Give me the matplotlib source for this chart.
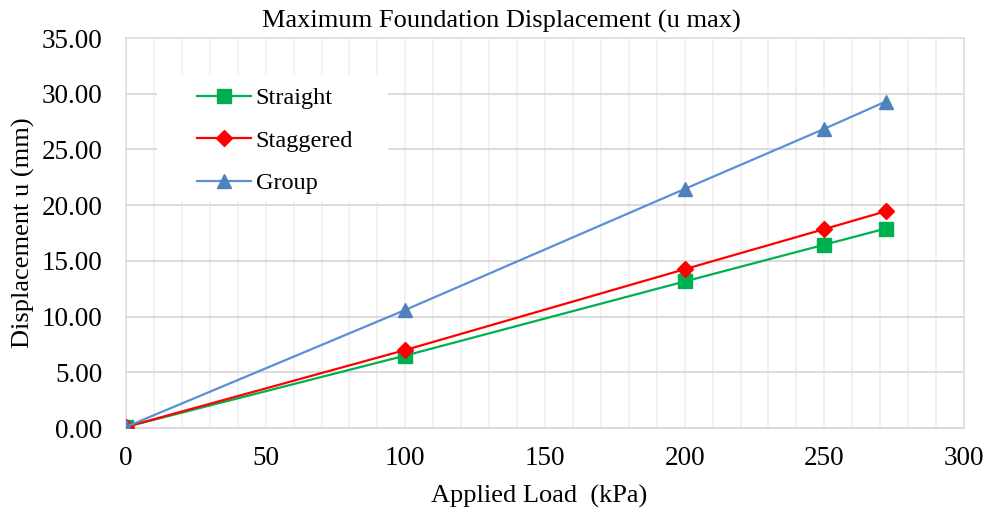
import matplotlib
matplotlib.use("Agg")
import matplotlib.pyplot as plt
from matplotlib.ticker import MultipleLocator, FormatStrFormatter
from matplotlib.patches import Rectangle

load = [0, 100, 200, 250, 272]
straight = [0.1, 6.5, 13.15, 16.45, 17.9]
staggered = [0.1, 7.0, 14.25, 17.85, 19.45]
group = [0.1, 10.6, 21.45, 26.85, 29.3]

plt.rcParams['font.family'] = ['Liberation Serif', 'DejaVu Serif']

W, H = 988, 509
fig = plt.figure(figsize=(9.88, 5.09), dpi=100)
L, R, T, B = 126, 964, 38, 428
ax = fig.add_axes([L/W, 1-B/H, (R-L)/W, (B-T)/H])

ax.plot(load, straight, color='#00b050', marker='s', markersize=10, lw=1.6, label='Straight', zorder=3)
ax.plot(load, staggered, color='#ff0000', marker='D', markersize=8, lw=1.6, label='Staggered', zorder=3)
ax.plot(load, group, color='#5b8fd6', marker='^', markersize=10, lw=1.6, label='Group', zorder=3,
        markerfacecolor='#4f81bd', markeredgecolor='#4f81bd')

ax.set_xlim(0, 300)
ax.set_ylim(0, 35)
ax.xaxis.set_major_locator(MultipleLocator(50))
ax.xaxis.set_minor_locator(MultipleLocator(10))
ax.yaxis.set_major_locator(MultipleLocator(5))
ax.yaxis.set_major_formatter(FormatStrFormatter('%.2f'))
ax.grid(which='major', axis='y', color='#d9d9d9', lw=1.3)
ax.grid(which='minor', axis='x', color='#f0f0f0', lw=1.3)
ax.grid(which='major', axis='x', color='#f0f0f0', lw=1.3)
ax.set_axisbelow(True)
ax.tick_params(which='both', length=0, labelsize=19.5, colors='black')
ax.tick_params(axis='y', pad=17)
ax.tick_params(axis='x', pad=13)
for s in ['top', 'right', 'left']:
    ax.spines[s].set_color('#e0e0e0')
    ax.spines[s].set_linewidth(1.2)
ax.spines['bottom'].set_color('#d9d9d9')
ax.spines['bottom'].set_linewidth(1.5)

# legend background box (covers gridlines)
bx0, bx1, by0, by1 = 157, 388, 75, 202
ax.add_patch(Rectangle(((bx0-L)/(R-L), 1-(by1-T)/(B-T)), (bx1-bx0)/(R-L), (by1-by0)/(B-T),
                       transform=ax.transAxes, facecolor='white', edgecolor='none', zorder=1))

fig.text(501/W, 1-21/H, 'Maximum Foundation Displacement (u max)', fontsize=19,
         ha='center', va='center')
ax.set_xlabel('Applied Load  (kPa)', fontsize=19, labelpad=9)
ax.xaxis.set_label_coords((539-L)/(R-L), -0.145)
ax.set_ylabel('Displacement u (mm)', fontsize=19, labelpad=5)

leg = ax.legend(loc='upper left', bbox_to_anchor=((190-L)/(R-L), 1-(80-T)/(B-T)), fontsize=17.5,
                frameon=False, handlelength=2.2, labelspacing=0.84, borderpad=0.3,
                handletextpad=0.2, borderaxespad=0)

fig.savefig('out.png', dpi=100)
